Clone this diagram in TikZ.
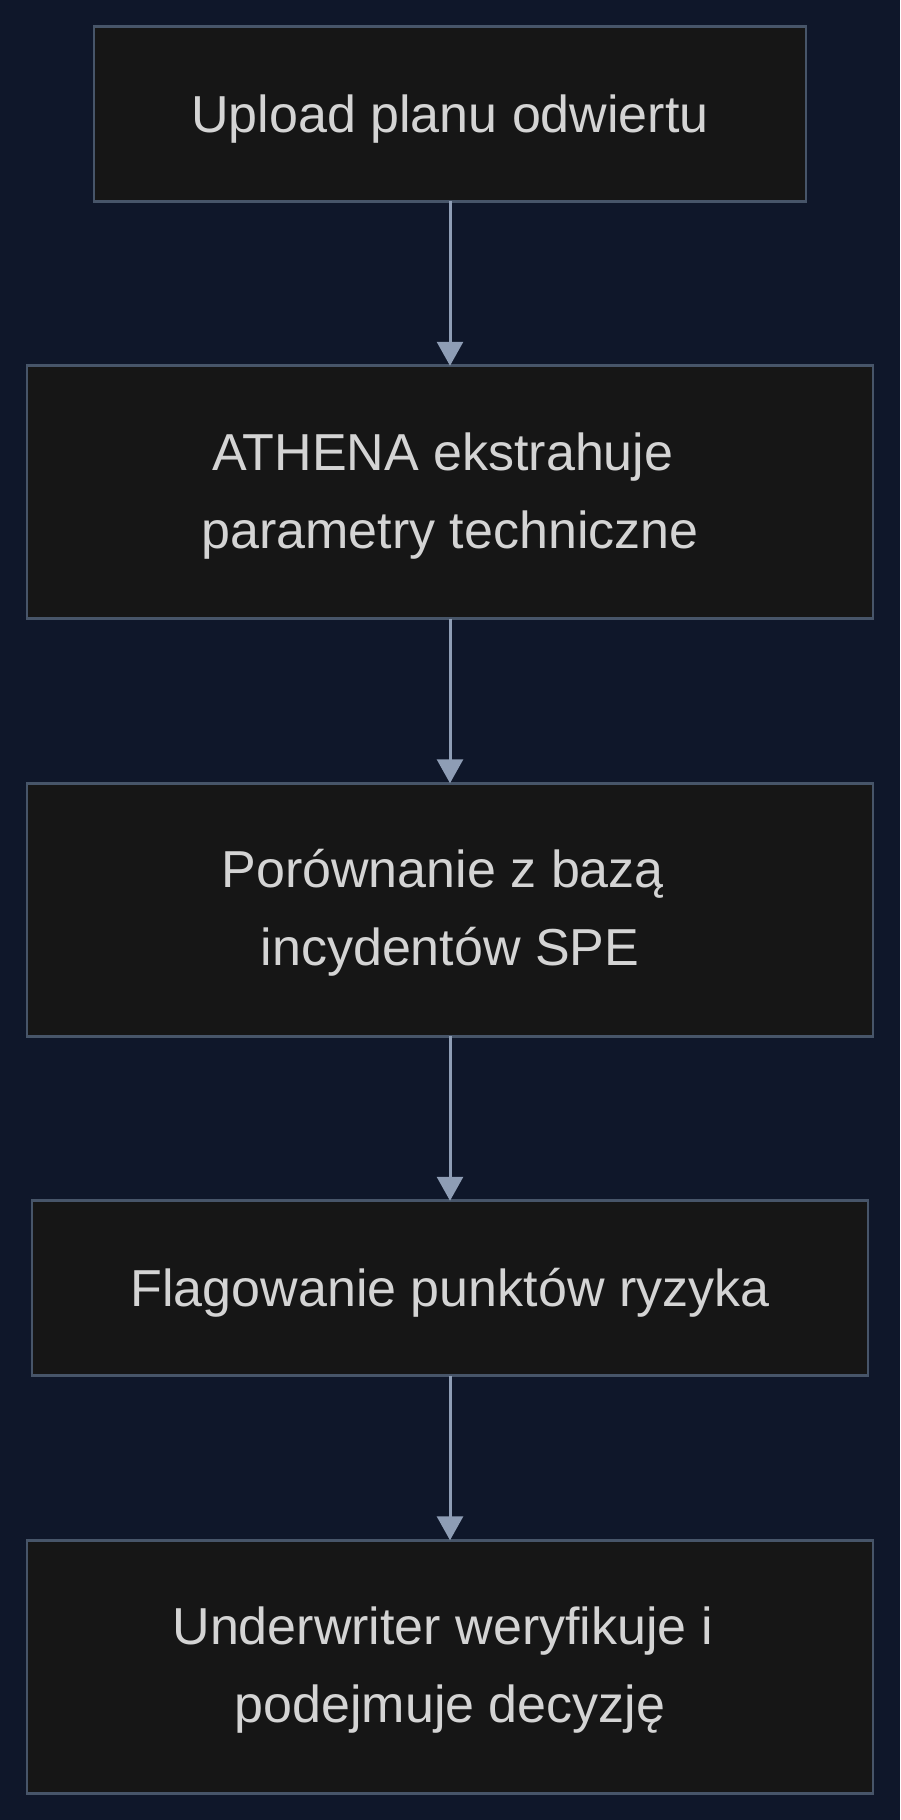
\documentclass[tikz,border=0pt]{standalone}
\usepackage{fontspec}
\setmainfont{Liberation Sans}
\usetikzlibrary{positioning,arrows.meta}

\definecolor{bgnavy}{HTML}{0F172A}
\definecolor{boxfill}{HTML}{161616}
\definecolor{boxline}{HTML}{475569}
\definecolor{flowline}{HTML}{8E9DB5}
\definecolor{boxtext}{HTML}{D4D4D4}

\newcommand{\topgap}{\rule{0pt}{45pt}}

\begin{document}
\begin{tikzpicture}[x=1pt,y=1pt, node distance=164.5pt,
    stepbox/.style={draw=boxline, fill=boxfill, line width=2.75pt, text=boxtext,
      align=center, inner sep=0pt, outer sep=0pt, font=\fontsize{52}{78}\selectfont},
    oneline/.style={minimum height=175pt, text height=48pt, text depth=11pt},
    twoline/.style={minimum height=253pt},
    flow/.style={draw=flowline, line width=3pt, -{Triangle[width=26pt,length=24pt]}}]
  \fill [bgnavy] (0,0) rectangle (900,-1820);
  \useasboundingbox (0,0) rectangle (900,-1820);
  % steps
  \node [stepbox, oneline, minimum width=712pt] (upload) at (450,-113.75) {Upload planu odwiertu};
  \node [stepbox, twoline, minimum width=846pt, below=of upload] (extract) {\topgap ATHENA ekstrahuje\kern0.28em\\parametry techniczne};
  \node [stepbox, twoline, minimum width=846pt, below=of extract] (compare) {\topgap Porównanie z bazą\kern0.28em\\incydentów SPE};
  \node [stepbox, oneline, minimum width=836pt, below=of compare] (flag) {Flagowanie punktów ryzyka};
  \node [stepbox, twoline, minimum width=846pt, below=of flag] (decide) {\topgap Underwriter weryfikuje i\kern0.28em\\podejmuje decyzję};
  % arrows
  \draw [flow] (upload) -- (extract);
  \draw [flow] (extract) -- (compare);
  \draw [flow] (compare) -- (flag);
  \draw [flow] (flag) -- (decide);
\end{tikzpicture}
\end{document}
